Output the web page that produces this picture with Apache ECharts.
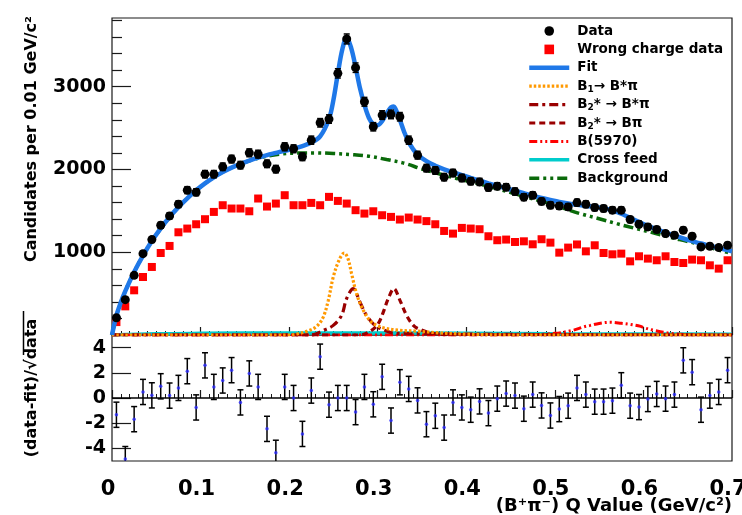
<!DOCTYPE html>
<html>
<head>
<meta charset="utf-8">
<title>B+pi- Q value</title>
<script src="https://cdn.jsdelivr.net/npm/echarts@6.0.0/dist/echarts.min.js"></script>
<style>
  html, body { margin: 0; padding: 0; background: #fff; }
  #chart { width: 742px; height: 515px; }
</style>
</head>
<body>
<div id="chart"></div>
<script>
// bin centres (GeV/c^2), 0.01 wide bins
var binCenters = [0.005, 0.015, 0.025, 0.035, 0.045, 0.055, 0.065, 0.075, 0.085, 0.095,
  0.105, 0.115, 0.125, 0.135, 0.145, 0.155, 0.165, 0.175, 0.185, 0.195,
  0.205, 0.215, 0.225, 0.235, 0.245, 0.255, 0.265, 0.275, 0.285, 0.295,
  0.305, 0.315, 0.325, 0.335, 0.345, 0.355, 0.365, 0.375, 0.385, 0.395,
  0.405, 0.415, 0.425, 0.435, 0.445, 0.455, 0.465, 0.475, 0.485, 0.495,
  0.505, 0.515, 0.525, 0.535, 0.545, 0.555, 0.565, 0.575, 0.585, 0.595,
  0.605, 0.615, 0.625, 0.635, 0.645, 0.655, 0.665, 0.675, 0.685, 0.695];

// right charge data
var dataCounts = [209, 427, 721, 983, 1153, 1326, 1439, 1580, 1750, 1725,
  1943, 1943, 2032, 2125, 2052, 2201, 2185, 2068, 2004, 2274,
  2250, 2153, 2354, 2564, 2609, 3161, 3577, 3230, 2818, 2516,
  2657, 2665, 2637, 2354, 2173, 2016, 1987, 1907, 1957, 1897,
  1858, 1850, 1782, 1798, 1786, 1733, 1665, 1689, 1614, 1568,
  1558, 1548, 1600, 1580, 1540, 1528, 1508, 1508, 1395, 1338,
  1306, 1274, 1225, 1205, 1266, 1193, 1064, 1072, 1056, 1084];
var dataErr = [14, 21, 27, 31, 34, 36, 38, 40, 42, 42,
  44, 44, 45, 46, 45, 47, 47, 45, 45, 48,
  47, 46, 49, 51, 51, 56, 60, 57, 53, 50,
  52, 52, 51, 49, 47, 45, 45, 44, 44, 44,
  43, 43, 42, 42, 42, 42, 41, 41, 40, 40,
  39, 39, 40, 40, 39, 39, 39, 39, 37, 37,
  36, 36, 35, 35, 36, 35, 33, 33, 32, 33];

// wrong charge data
var wrongCounts = [156, 346, 540, 701, 822, 991, 1076, 1241, 1286, 1338,
  1399, 1487, 1568, 1528, 1528, 1495, 1649, 1552, 1588, 1689,
  1568, 1568, 1596, 1568, 1669, 1620, 1588, 1508, 1467, 1495,
  1447, 1427, 1395, 1419, 1395, 1376, 1338, 1257, 1225, 1294,
  1286, 1278, 1193, 1145, 1153, 1124, 1132, 1096, 1157, 1116,
  995, 1056, 1094, 1011, 1084, 991, 975, 983, 890, 951,
  923, 903, 951, 882, 870, 911, 903, 842, 802, 903];

// (data-fit)/sqrt(data)
var pulls = [-1.33, -4.85, -1.68, 0.48, 0.21, 0.93, 0.19, 0.8, 2.13, -0.75,
  2.59, 0.88, 1.39, 2.21, -0.35, 1.95, 0.88, -2.45, -4.35, 0.88,
  0, -2.85, 0.59, 3.28, -0.53, 0, 0, -1.12, 0.88, -0.5,
  1.68, -1.79, 1.25, 0.72, -0.19, -2.08, -1.41, -2.35, -0.35, -0.75,
  -0.93, -0.27, -1.2, -0.05, 0.35, 0.19, -0.85, 0.27, -0.59, -1.39,
  -0.88, -0.61, 0.8, 0.27, -0.29, -0.29, -0.21, 1.01, -0.61, -0.72,
  -0.08, 0.32, -0.05, 0.27, 2.99, 2.05, -0.93, 0.19, 0.48, 2.21];
var PULL_ERR = 1;

// total fit
var fitX = [0, 0.005, 0.01, 0.015, 0.025, 0.035, 0.045, 0.055, 0.065, 0.075, 0.085, 0.095,
  0.105, 0.115, 0.125, 0.135, 0.145, 0.155, 0.165, 0.175, 0.185, 0.195,
  0.205, 0.215, 0.225, 0.235, 0.245, 0.25, 0.255, 0.26, 0.265, 0.27, 0.275, 0.28, 0.285, 0.29, 0.295,
  0.3, 0.305, 0.31, 0.315, 0.3175, 0.32, 0.325, 0.33, 0.335, 0.34, 0.345, 0.355, 0.365, 0.375, 0.385, 0.395,
  0.405, 0.415, 0.425, 0.435, 0.445, 0.455, 0.465, 0.475, 0.485, 0.495,
  0.505, 0.515, 0.525, 0.535, 0.545, 0.555, 0.565, 0.575, 0.585, 0.595,
  0.605, 0.615, 0.625, 0.635, 0.645, 0.655, 0.665, 0.675, 0.685, 0.695, 0.7];
var fitY = [0, 235, 395, 530, 762, 960, 1135, 1288, 1425, 1545, 1652, 1748,
  1832, 1905, 1968, 2022, 2068, 2108, 2143, 2174, 2200, 2226,
  2250, 2282, 2325, 2400, 2610, 2840, 3160, 3450, 3595, 3470, 3240, 2980, 2780, 2625, 2545,
  2535, 2585, 2675, 2750, 2762, 2735, 2600, 2450, 2330, 2245, 2180, 2100, 2045, 2002, 1966, 1932,
  1898, 1865, 1833, 1802, 1772, 1743, 1713, 1684, 1657, 1632,
  1608, 1588, 1572, 1560, 1548, 1533, 1505, 1465, 1415, 1365,
  1318, 1275, 1236, 1200, 1166, 1135, 1105, 1078, 1050, 1025, 1012];

// background component
var bkgX = [0, 0.005, 0.015, 0.025, 0.035, 0.05, 0.07, 0.09, 0.11, 0.13, 0.15, 0.17, 0.19,
  0.21, 0.23, 0.25, 0.27, 0.29, 0.31, 0.33, 0.35, 0.37, 0.39, 0.41, 0.43, 0.45, 0.47, 0.49,
  0.51, 0.53, 0.55, 0.57, 0.59, 0.61, 0.63, 0.65, 0.67, 0.69, 0.7];
var bkgY = [0, 235, 530, 762, 960, 1212, 1485, 1700, 1870, 1995, 2085, 2150, 2185,
  2198, 2200, 2193, 2180, 2160, 2120, 2075, 2005, 1945, 1888, 1838, 1782, 1722, 1660, 1600,
  1530, 1462, 1405, 1345, 1290, 1238, 1180, 1130, 1075, 1010, 985];

// signal components
var b1X = [0, 0.2, 0.21, 0.22, 0.231, 0.2385, 0.2442, 0.2498, 0.2562, 0.2622, 0.2665, 0.2705,
  0.2761, 0.2837, 0.293, 0.3063, 0.3251, 0.344, 0.37, 0.4, 0.45, 0.7];
var b1Y = [0, 0, 15, 45, 104, 217, 419, 701, 900, 991, 920, 741,
  500, 298, 156, 88, 56, 47, 25, 10, 0, 0];

var b2StarX = [0, 0.225, 0.2404, 0.2498, 0.2592, 0.2649, 0.2724, 0.2799, 0.2874, 0.2968, 0.3063, 0.32, 0.7];
var b2StarY = [0, 0, 64, 116, 237, 439, 560, 398, 237, 116, 64, 20, 0];

var b2X = [0, 0.28, 0.293, 0.3006, 0.3063, 0.3119, 0.3183, 0.3251, 0.3326, 0.3402, 0.3458, 0.36, 0.38, 0.7];
var b2Y = [0, 0, 56, 137, 277, 439, 560, 419, 237, 116, 76, 25, 5, 0];

var b5970X = [0, 0.46, 0.5, 0.52, 0.533, 0.54, 0.55, 0.5623, 0.575, 0.585, 0.597, 0.6, 0.612, 0.63, 0.65, 0.7];
var b5970Y = [0, 0, 20, 56, 100, 116, 140, 154, 142, 128, 104, 90, 56, 20, 5, 0];

var crossX = [0, 0.05, 0.1, 0.2, 0.3, 0.4, 0.5, 0.6, 0.7];
var crossY = [0, 15, 20, 25, 25, 20, 15, 12, 10];

// axis ticks
var mainMajor = [1000, 2000, 3000];
var mainMinor = [200, 400, 600, 800, 1200, 1400, 1600, 1800, 2200, 2400, 2600, 2800, 3200, 3400, 3600, 3800];
var pullTicks = [-4, -2, 0, 2, 4];

var FONT = '"DejaVu Sans", sans-serif';
var INK = '#1a1a1a';

function pairs(xs, ys) {
  return xs.map(function (x, i) { return [x, ys[i]]; });
}

// vertical error bar with little caps
function errorBar(capHalf, width) {
  return function (params, api) {
    var lo = api.coord([api.value(0), api.value(1)]);
    var hi = api.coord([api.value(0), api.value(2)]);
    var st = { stroke: '#000', lineWidth: width };
    return {
      type: 'group',
      children: [
        { type: 'line', shape: { x1: hi[0], y1: hi[1], x2: lo[0], y2: lo[1] }, style: st },
        { type: 'line', shape: { x1: hi[0] - capHalf, y1: hi[1], x2: hi[0] + capHalf, y2: hi[1] }, style: st },
        { type: 'line', shape: { x1: lo[0] - capHalf, y1: lo[1], x2: lo[0] + capHalf, y2: lo[1] }, style: st }
      ]
    };
  };
}

function curve(name, xs, ys, color, width, dash, z) {
  return {
    name: name,
    type: 'line',
    xAxisIndex: 0,
    yAxisIndex: 0,
    data: pairs(xs, ys),
    symbol: 'none',
    showSymbol: false,
    smooth: 0.35,
    silent: true,
    z: z,
    itemStyle: { color: color },
    lineStyle: { color: color, width: width, type: dash }
  };
}

function plain(v) { return String(v); }

var legendLabels = {
  'B1 → B*π': 'B{sub|1}→ B*π',
  'B2* → B*π': 'B{sub|2}* → B*π',
  'B2* → Bπ': 'B{sub|2}* → Bπ'
};

var hideDot = { opacity: 0 };

var chart = echarts.init(document.getElementById('chart'));

chart.setOption({
  animation: false,
  backgroundColor: '#fff',
  textStyle: { fontFamily: FONT },
  grid: [
    { left: 112, top: 18, width: 620, height: 317, show: true, borderColor: INK, borderWidth: 1.2, outerBoundsMode: 'none', containLabel: false },
    { left: 112, top: 335, width: 620, height: 126, show: true, borderColor: INK, borderWidth: 1.2, outerBoundsMode: 'none', containLabel: false }
  ],
  xAxis: [
    {
      gridIndex: 0, type: 'value', min: 0, max: 0.7, interval: 0.1,
      axisLine: { show: false },
      axisTick: { inside: true, length: 8, lineStyle: { color: INK, width: 1.2 } },
      minorTick: { show: true, splitNumber: 10, length: 4, lineStyle: { color: INK, width: 1 } },
      axisLabel: { show: false },
      splitLine: { show: false }
    },
    {
      gridIndex: 1, type: 'value', min: 0, max: 0.7, interval: 0.1,
      axisLine: { show: false },
      axisTick: { inside: true, length: 8, lineStyle: { color: INK, width: 1.2 } },
      minorTick: { show: true, splitNumber: 10, length: 4, lineStyle: { color: INK, width: 1 } },
      axisLabel: {
        fontSize: 21, fontWeight: 'bold', fontFamily: FONT, color: '#000', margin: 18,
        formatter: function (v) { return '{t|' + v + '}'; },
        rich: { t: { fontSize: 21, fontWeight: 'bold', fontFamily: FONT, color: '#000', padding: [0, 8, 0, 0] } }
      },
      splitLine: { show: false }
    }
  ],
  yAxis: [
    {
      gridIndex: 0, type: 'value', min: 0, max: 3830,
      axisLine: { show: false },
      axisTick: { inside: true, length: 19, customValues: mainMajor, lineStyle: { color: INK, width: 1.2 } },
      axisLabel: { customValues: mainMajor, formatter: plain, fontSize: 19, fontWeight: 'bold', fontFamily: FONT, color: '#000', margin: 6 },
      splitLine: { show: false }
    },
    {
      // minor ticks only
      gridIndex: 0, type: 'value', min: 0, max: 3830, position: 'left',
      axisLine: { show: false },
      axisTick: { inside: true, length: 10, customValues: mainMinor, lineStyle: { color: INK, width: 1.2 } },
      axisLabel: { show: false },
      splitLine: { show: false }
    },
    {
      gridIndex: 1, type: 'value', min: -5, max: 5,
      axisLine: { show: false },
      axisTick: { inside: true, length: 19, customValues: pullTicks, lineStyle: { color: INK, width: 1.2 } },
      axisLabel: { customValues: pullTicks, formatter: plain, fontSize: 19, fontWeight: 'bold', fontFamily: FONT, color: '#000', margin: 6 },
      splitLine: { show: false }
    }
  ],
  legend: {
    orient: 'vertical',
    left: 527,
    top: 23,
    padding: 0,
    itemWidth: 40,
    itemHeight: 12,
    itemGap: 2.4,
    selectedMode: false,
    lineStyle: { width: 'inherit' },
    formatter: function (name) { return legendLabels[name] || name; },
    textStyle: {
      fontFamily: FONT, fontWeight: 'bold', fontSize: 13.5, color: '#000', lineHeight: 16,
      padding: [0, 0, 0, 3],
      rich: {
        sub: { fontFamily: FONT, fontWeight: 'bold', fontSize: 9, color: '#000', verticalAlign: 'bottom', lineHeight: 7 }
      }
    },
    data: [
      { name: 'Data' },
      { name: 'Wrong charge data' },
      { name: 'Fit', itemStyle: hideDot },
      { name: 'B1 → B*π', itemStyle: hideDot },
      { name: 'B2* → B*π', itemStyle: hideDot },
      { name: 'B2* → Bπ', itemStyle: hideDot },
      { name: 'B(5970)', itemStyle: hideDot },
      { name: 'Cross feed', itemStyle: hideDot },
      { name: 'Background', itemStyle: hideDot }
    ]
  },
  graphic: [
    {
      type: 'text', x: 32, y: 139, rotation: Math.PI / 2,
      style: { text: 'Candidates per 0.01 GeV/c²', fill: '#000', font: 'bold 16px "DejaVu Sans"', align: 'center', verticalAlign: 'middle' }
    },
    {
      type: 'text', x: 32, y: 388, rotation: Math.PI / 2,
      style: { text: '(data-fit)/√data', fill: '#000', font: 'bold 16px "DejaVu Sans"', align: 'center', verticalAlign: 'middle' }
    },
    {
      // bar over the sqrt argument
      type: 'line', shape: { x1: 23.5, y1: 311, x2: 23.5, y2: 355 },
      style: { stroke: '#000', lineWidth: 1.5 }
    },
    {
      type: 'text', x: 732, y: 506,
      style: { text: '(B⁺π⁻) Q Value (GeV/c²)', fill: '#000', font: 'bold 18px "DejaVu Sans"', align: 'right', verticalAlign: 'middle' }
    }
  ],
  series: [
    {
      name: 'Wrong charge data', type: 'line', xAxisIndex: 0, yAxisIndex: 0,
      data: pairs(binCenters, wrongCounts),
      symbol: 'rect', symbolSize: 8, showSymbol: true, silent: true, z: 3,
      itemStyle: { color: '#ff0000' },
      lineStyle: { width: 0, opacity: 0 }
    },
    curve('Background', bkgX, bkgY, '#0a6a0a', 3.5, [10, 4, 3, 4, 3, 4], 2),
    curve('Fit', fitX, fitY, '#1f78e8', 4.5, 'solid', 4),
    curve('Cross feed', crossX, crossY, '#00cccc', 3.5, 'solid', 2),
    curve('B(5970)', b5970X, b5970Y, '#ff0000', 3, [8, 3, 2, 3, 2, 3], 2),
    curve('B2* → Bπ', b2X, b2Y, '#990000', 3.2, [6, 4], 2),
    curve('B2* → B*π', b2StarX, b2StarY, '#990000', 3.2, [9, 4, 3, 4], 2),
    curve('B1 → B*π', b1X, b1Y, '#ff9900', 3.2, [2.5, 2], 2),
    {
      type: 'custom', xAxisIndex: 0, yAxisIndex: 0, silent: true, z: 5,
      data: binCenters.map(function (x, i) { return [x, dataCounts[i] - dataErr[i], dataCounts[i] + dataErr[i]]; }),
      renderItem: errorBar(3, 1.5)
    },
    {
      name: 'Data', type: 'line', xAxisIndex: 0, yAxisIndex: 0,
      data: pairs(binCenters, dataCounts),
      symbol: 'circle', symbolSize: 9, showSymbol: true, silent: true, z: 6,
      itemStyle: { color: '#000' },
      lineStyle: { width: 0, opacity: 0 }
    },
    // residual panel
    {
      type: 'custom', xAxisIndex: 1, yAxisIndex: 2, silent: true, clip: true, z: 4,
      data: binCenters.map(function (x, i) { return [x, pulls[i] - PULL_ERR, pulls[i] + PULL_ERR]; }),
      renderItem: errorBar(3, 1.5)
    },
    {
      type: 'scatter', xAxisIndex: 1, yAxisIndex: 2, silent: true, z: 5,
      data: pairs(binCenters, pulls),
      symbolSize: 3.5,
      itemStyle: { color: '#2a2aff' },
      markLine: {
        silent: true, symbol: ['none', 'none'], label: { show: false },
        lineStyle: { color: '#000', type: 'solid', width: 1.5 },
        data: [{ yAxis: 0 }]
      }
    }
  ]
});
</script>
</body>
</html>
